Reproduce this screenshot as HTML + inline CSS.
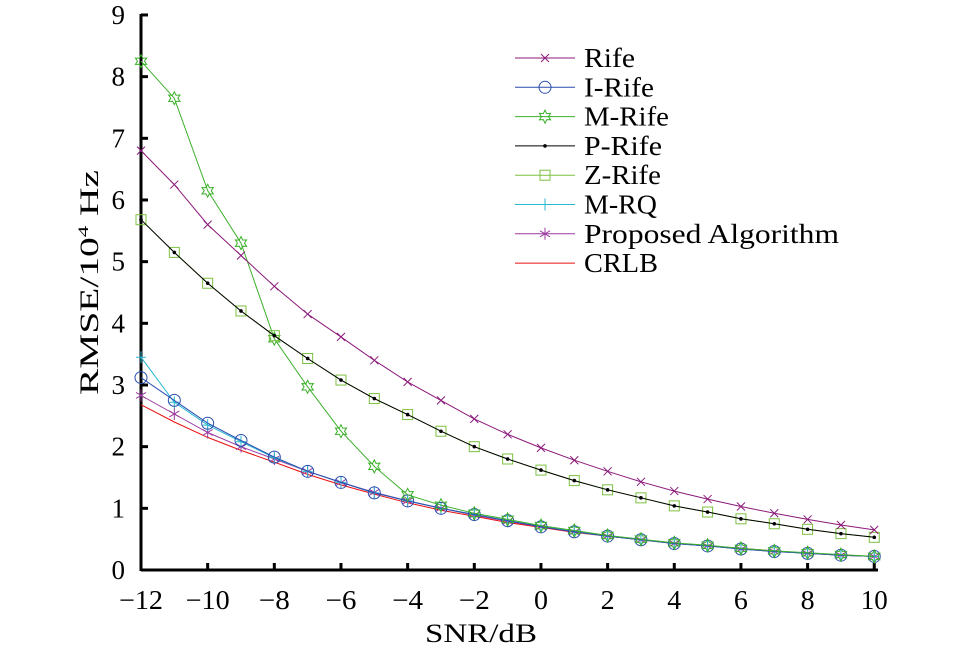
<!DOCTYPE html>
<html><head><meta charset="utf-8"><style>body{margin:0;background:#fff}svg{display:block}</style></head>
<body>
<svg id="s" width="958" height="650" xmlns="http://www.w3.org/2000/svg" font-family="Liberation Serif, serif"></svg>
<script>
const s=document.getElementById('s');
const X=v=>141+(v+12)*33.33, Y=v=>570-v*61.67;
let h='';
h+='<line x1="141" y1="570" x2="878" y2="570" stroke="#000" stroke-width="3"/><line x1="141" y1="571" x2="141" y2="14" stroke="#000" stroke-width="3"/>';
for(let v=-12;v<=10;v+=2){const x=X(v);const t=v<0?'\u2212'+(-v):''+v;const w=v<=-10?44:(v<0?31:(v>=10?27:14));h+=`<line x1="${x}" y1="570" x2="${x}" y2="563" stroke="#000" stroke-width="3"/><text x="${x}" y="609" font-size="27" text-anchor="middle" textLength="${w}" lengthAdjust="spacingAndGlyphs">${t}</text>`;}
for(let v=0;v<=9;v++){const y=Y(v);h+=`<line x1="141" y1="${y}" x2="148" y2="${y}" stroke="#000" stroke-width="3"/><text x="125" y="${y+9}" font-size="27" text-anchor="end">${v}</text>`;}
h+='<text x="425" y="642" font-size="26" textLength="112" lengthAdjust="spacingAndGlyphs">SNR/dB</text>';
h+='<text transform="translate(98,395) rotate(-90)" font-size="26" textLength="225" lengthAdjust="spacingAndGlyphs">RMSE/10<tspan font-size="15" dy="-10">4</tspan><tspan dy="10"> Hz</tspan></text>';
const D={
rife:[6.8,6.25,5.6,5.1,4.6,4.15,3.78,3.4,3.05,2.75,2.45,2.2,1.98,1.78,1.6,1.43,1.28,1.15,1.03,0.92,0.82,0.73,0.65],
p:[5.68,5.15,4.65,4.2,3.8,3.43,3.08,2.78,2.52,2.25,2.0,1.8,1.62,1.45,1.3,1.17,1.04,0.94,0.83,0.75,0.66,0.59,0.53],
m:[8.25,7.65,6.15,5.3,3.75,2.97,2.25,1.68,1.22,1.05,0.92,0.82,0.72,0.64,0.56,0.5,0.44,0.4,0.35,0.31,0.28,0.25,0.22],
i:[3.12,2.75,2.38,2.1,1.83,1.6,1.42,1.25,1.12,1.0,0.9,0.8,0.7,0.62,0.55,0.49,0.43,0.39,0.34,0.3,0.27,0.24,0.22],
mrq:[3.45,2.72,2.35,2.08,1.82,1.6,1.42,1.25,1.12,1.0,0.9,0.8,0.71,0.62,0.55,0.49,0.43,0.39,0.34,0.3,0.27,0.24,0.22],
pr:[2.83,2.53,2.23,2.0,1.8,1.6,1.42,1.26,1.12,1.0,0.89,0.79,0.7,0.62,0.55,0.49,0.43,0.39,0.34,0.3,0.27,0.24,0.22],
c:[2.68,2.4,2.15,1.94,1.75,1.55,1.38,1.23,1.09,0.97,0.87,0.77,0.69,0.61,0.55,0.49,0.43,0.39,0.35,0.31,0.27,0.24,0.22]};
function mk(t,x,y,c){
 if(t=='x')return `<path d="M${x-4} ${y-4}L${x+4} ${y+4}M${x-4} ${y+4}L${x+4} ${y-4}" stroke="${c}"/>`;
 if(t=='o')return `<circle cx="${x}" cy="${y}" r="6" fill="none" stroke="${c}"/>`;
 if(t=='star'){let p='';for(let k=0;k<12;k++){const r=k%2?3.5:6.5,a=k*Math.PI/6-Math.PI/2;p+=(k?'L':'M')+(x+r*Math.cos(a)).toFixed(1)+' '+(y+r*Math.sin(a)).toFixed(1);}return `<path d="${p}Z" fill="none" stroke="${c}"/>`;}
 if(t=='dot')return `<circle cx="${x}" cy="${y}" r="1.8" fill="${c}"/>`;
 if(t=='sq')return `<rect x="${x-5}" y="${y-5}" width="10" height="10" fill="none" stroke="${c}"/>`;
 if(t=='+')return `<path d="M${x} ${y-6}V${y+6}M${x-5} ${y}H${x+5}" stroke="${c}"/>`;
 if(t=='*')return `<path d="M${x} ${y-6}V${y+6}M${x-5} ${y-3}L${x+5} ${y+3}M${x-5} ${y+3}L${x+5} ${y-3}" stroke="${c}"/>`;
 return '';}
const S=[['rife','#8b1a7a','x','Rife',51],['i','#2a4db0','o','I-Rife',70],['m','#3bb02a','star','M-Rife',85],['p','#000','dot','P-Rife',78],['sq','#7cc040','sq','Z-Rife',77],['mrq','#28b8d0','+','M-RQ',73],['pr','#9a3aa0','*','Proposed Algorithm',255],['c','#e81010','','CRLB',74]];
const order=['c','pr','mrq','i','m','sq','p','rife'];
order.forEach(k=>{const sr=S.find(q=>q[0]==k);const d=k=='sq'?D.p:D[k];
 let p=d.map((v,j)=>(j?'L':'M')+X(j-12).toFixed(1)+' '+Y(v).toFixed(1)).join('');
 h+=`<path d="${p}" fill="none" stroke="${sr[1]}" stroke-width="1"/>`;
 d.forEach((v,j)=>h+=mk(sr[2],X(j-12),Y(v),sr[1]));});
S.forEach((sr,n)=>{const y=58+n*29.3;h+=`<line x1="515" y1="${y}" x2="575" y2="${y}" stroke="${sr[1]}"/>`+mk(sr[2],545,y,sr[1])+`<text x="584" y="${y+9}" font-size="27" textLength="${sr[4]}" lengthAdjust="spacingAndGlyphs">${sr[3]}</text>`;});
s.innerHTML=h;
</script>
</body></html>
